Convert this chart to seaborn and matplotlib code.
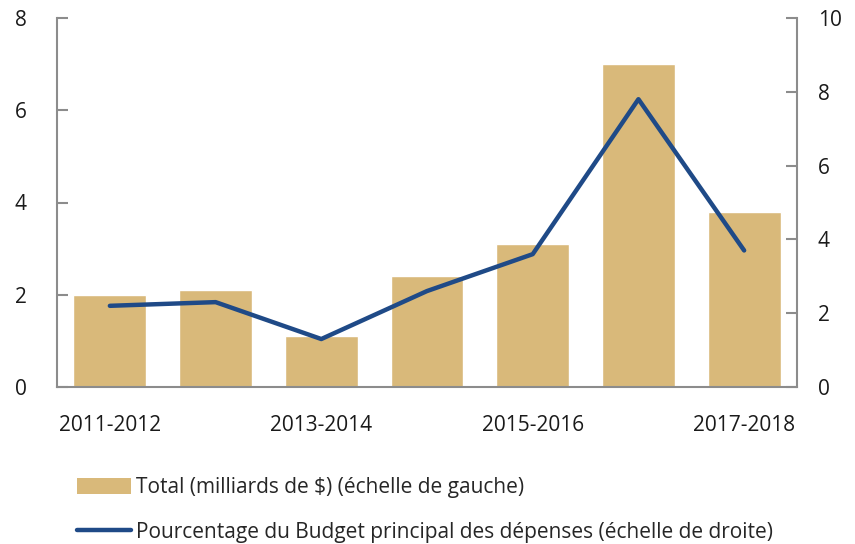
import matplotlib
matplotlib.use("Agg")
import matplotlib.pyplot as plt
import seaborn as sns
import pandas as pd
from matplotlib.patches import Patch
from matplotlib.lines import Line2D

categories = ["2011-2012", "2012-2013", "2013-2014", "2014-2015", "2015-2016", "2016-2017", "2017-2018"]
tick_labels = ["2011-2012", "", "2013-2014", "", "2015-2016", "", "2017-2018"]
total_bn = [2.0, 2.1, 1.1, 2.4, 3.1, 7.0, 3.8]
pct_budget = [2.2, 2.3, 1.3, 2.6, 3.6, 7.8, 3.7]

df = pd.DataFrame({"cat": categories, "total": total_bn, "pct": pct_budget})

sns.set_theme(style="white")
plt.rcParams["font.family"] = ["Open Sans", "DejaVu Sans"]

bar_color = "#D9B97A"
line_color = "#1F4A87"
axis_color = "#8C8C8C"
fs = 15

fig = plt.figure(figsize=(8.55, 5.44), dpi=100)
ax = fig.add_axes([57/855, 1-387/544, (797-57)/855, (387-18)/544])
sns.barplot(data=df, x="cat", y="total", color=bar_color, width=0.69, ax=ax, saturation=1)
ax2 = ax.twinx()
ax2.plot(range(len(categories)), df["pct"], color=line_color, lw=3.2, solid_capstyle="round")

ax.set_xlim(-0.5, 6.5)
ax.set_ylim(0, 8)
ax2.set_ylim(0, 10)
ax.set_yticks([0, 2, 4, 6, 8])
ax2.set_yticks([0, 2, 4, 6, 8, 10])
ax.set_xticks(range(len(categories)))
ax.set_xticklabels(tick_labels)
ax.set_xlabel("")
ax.set_ylabel("")

for a in (ax, ax2):
    for s in a.spines.values():
        s.set_visible(False)
    a.tick_params(labelsize=fs, colors="#1a1a1a")
ax.spines["left"].set_visible(True)
ax.spines["bottom"].set_visible(True)
ax2.spines["right"].set_visible(True)
for s in (ax.spines["left"], ax.spines["bottom"], ax2.spines["right"]):
    s.set_color(axis_color)
    s.set_linewidth(1.5)
ax.tick_params(axis="y", direction="in", length=8, width=1.5, color=axis_color, left=True, pad=22)
ax.tick_params(axis="x", length=0, pad=20)
ax2.tick_params(axis="y", direction="in", length=8, width=1.5, color=axis_color, right=True, pad=15)
for lab in ax.get_yticklabels() + ax2.get_yticklabels() + ax.get_xticklabels():
    lab.set_color("#1a1a1a")

handles = [Patch(facecolor=bar_color, edgecolor="none"),
           Line2D([0], [0], color=line_color, lw=3.2, solid_capstyle="round")]
labels = ["Total (milliards de $) (échelle de gauche)",
          "Pourcentage du Budget principal des dépenses (échelle de droite)"]
fig.legend(handles, labels, loc="upper left", bbox_to_anchor=(0.09, 1-477/544),
           frameon=False, fontsize=fs, handlelength=2.6, handleheight=0.8,
           handletextpad=0.25, labelspacing=1.15, borderaxespad=0, borderpad=0)

fig.savefig("out.png", dpi=100)
